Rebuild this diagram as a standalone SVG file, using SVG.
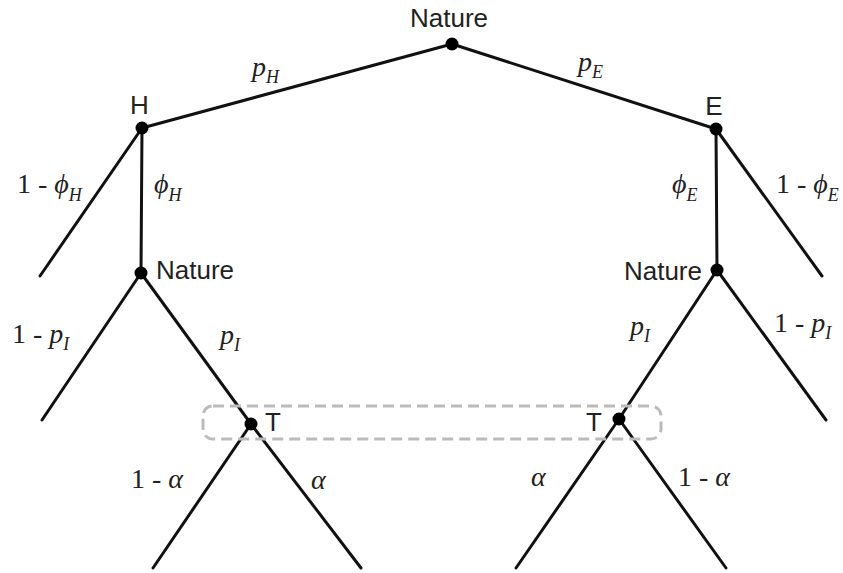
<svg xmlns="http://www.w3.org/2000/svg" width="843" height="573" viewBox="0 0 843 573">
<style>
.e{stroke:#111;stroke-width:3;fill:none;stroke-linecap:round}
.d{fill:#000}
.n{font-family:"Liberation Sans",Arial,sans-serif;font-size:26px;fill:#222}
.m{font-family:"Liberation Serif","Times New Roman",serif;font-size:28px;fill:#222}
.i{font-style:italic}
.s{font-size:18px;font-style:italic}
.info{fill:none;stroke:#bbb;stroke-width:3;stroke-dasharray:11 6}
</style>
<rect width="843" height="573" fill="#fff"/>
<g id="edges">
<line class="e" x1="452" y1="44" x2="142" y2="128"/>
<line class="e" x1="452" y1="44" x2="716" y2="129"/>
<line class="e" x1="142" y1="128" x2="40" y2="276"/>
<line class="e" x1="142" y1="128" x2="141" y2="273"/>
<line class="e" x1="716" y1="129" x2="822" y2="276"/>
<line class="e" x1="716" y1="129" x2="717" y2="270"/>
<line class="e" x1="141" y1="273" x2="42" y2="420"/>
<line class="e" x1="141" y1="273" x2="251" y2="424"/>
<line class="e" x1="717" y1="270" x2="619" y2="419"/>
<line class="e" x1="717" y1="270" x2="826" y2="420"/>
<line class="e" x1="251" y1="424" x2="153" y2="568"/>
<line class="e" x1="251" y1="424" x2="361" y2="568"/>
<line class="e" x1="619" y1="419" x2="516" y2="568"/>
<line class="e" x1="619" y1="419" x2="726" y2="568"/>
</g>
<g id="infoset"><rect class="info" x="203" y="406" width="458" height="33" rx="10"/></g>
<g id="labels">
<text class="m i" x="252" y="76">p<tspan class="s" dy="7">H</tspan></text>
<text class="m i" x="578" y="71">p<tspan class="s" dy="7">E</tspan></text>
<text class="m" x="17" y="193">1 - <tspan class="i">ϕ</tspan><tspan class="s" dy="8">H</tspan></text>
<text class="m i" x="154" y="193">ϕ<tspan class="s" dy="8">H</tspan></text>
<text class="m i" x="672" y="193">ϕ<tspan class="s" dy="8">E</tspan></text>
<text class="m" x="776" y="193">1 - <tspan class="i">ϕ</tspan><tspan class="s" dy="8">E</tspan></text>
<text class="m" x="12" y="343">1 - <tspan class="i">p</tspan><tspan class="s" dy="7">I</tspan></text>
<text class="m i" x="220" y="344">p<tspan class="s" dy="7">I</tspan></text>
<text class="m i" x="630" y="335">p<tspan class="s" dy="7">I</tspan></text>
<text class="m" x="774" y="332">1 - <tspan class="i">p</tspan><tspan class="s" dy="7">I</tspan></text>
<text class="m" x="131" y="488">1 - <tspan class="i">α</tspan></text>
<text class="m i" x="311" y="489">α</text>
<text class="m i" x="531" y="486">α</text>
<text class="m" x="678" y="486">1 - <tspan class="i">α</tspan></text>
</g>
<g id="root"><circle class="d" cx="452" cy="44" r="6.5"/><text class="n" x="449" y="27" text-anchor="middle">Nature</text></g>
<g id="H"><circle class="d" cx="142" cy="128" r="6.5"/><text class="n" x="139.5" y="114" text-anchor="middle">H</text></g>
<g id="E"><circle class="d" cx="716" cy="129" r="6.5"/><text class="n" x="714" y="115" text-anchor="middle">E</text></g>
<g id="natureL"><circle class="d" cx="141" cy="273" r="6.5"/><text class="n" x="156" y="279">Nature</text></g>
<g id="natureR"><circle class="d" cx="717" cy="270" r="6.5"/><text class="n" x="702" y="280" text-anchor="end">Nature</text></g>
<g id="TL"><circle class="d" cx="251" cy="424" r="6.5"/><text class="n" x="273" y="431" text-anchor="middle">T</text></g>
<g id="TR"><circle class="d" cx="619" cy="419" r="6.5"/><text class="n" x="594" y="431" text-anchor="middle">T</text></g>
</svg>
